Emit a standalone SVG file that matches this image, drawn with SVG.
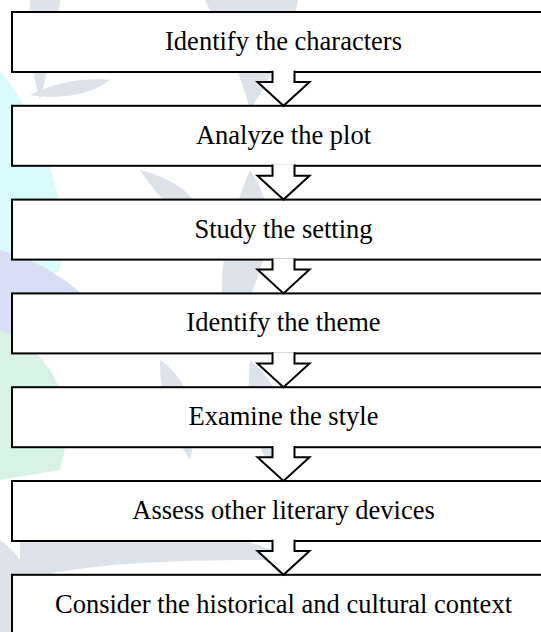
<svg xmlns="http://www.w3.org/2000/svg" width="541" height="632" viewBox="0 0 541 632">
<style>
.box{fill:#ffffff;stroke:#000000;stroke-width:2}
.lbl{font-family:"Liberation Serif","Times New Roman",serif;font-size:26.5px;fill:#000000;text-anchor:middle}
.arr{fill:#ffffff;stroke:#000000;stroke-width:2;stroke-linejoin:miter}
.wm{stroke:none}
</style>
<rect x="0" y="0" width="541" height="632" fill="#ffffff"/>
<g id="watermark">
<path class="wm" fill="#d9fbfc" d="M0 70 C40 120 70 200 60 270 L0 300 Z"/>
<path class="wm" fill="#d9ddf6" d="M0 250 C40 260 90 290 110 330 L0 350 Z"/>
<path class="wm" fill="#d8f3e6" d="M0 330 C50 350 80 400 60 470 L0 480 Z"/>
<path class="wm" fill="#dde3e8" d="M30 0 L60 0 C58 30 50 60 40 100 C30 70 28 30 30 0 Z"/>
<path class="wm" fill="#dde3e8" d="M30 95 C60 80 90 78 110 80 C90 95 60 100 30 95 Z"/>
<path class="wm" fill="#dde3e8" d="M205 0 L298 0 C290 40 270 80 250 110 C240 70 220 30 205 0 Z"/>
<path class="wm" fill="#dde3e8" d="M140 170 C180 180 200 200 210 230 C180 220 160 200 140 170 Z"/>
<path class="wm" fill="#dde3e8" d="M250 170 C270 200 275 230 260 270 C250 300 240 320 230 340 C215 300 220 240 250 170 Z"/>
<path class="wm" fill="#dde3e8" d="M160 360 C190 380 200 420 190 460 C170 430 160 400 160 360 Z"/>
<path class="wm" fill="#dde3e8" d="M250 360 C285 390 300 440 280 480 C255 450 245 410 250 360 Z"/>
<path class="wm" fill="#dde3e8" d="M20 520 C100 510 200 520 300 560 C200 560 100 560 20 580 Z"/>
<path class="wm" fill="#dde3e8" d="M0 540 C30 560 40 600 30 632 L0 632 Z"/>
</g>
<g id="n1"><rect class="box" x="12" y="12" width="560" height="60"/><text class="lbl" x="283.5" y="50">Identify the characters</text></g>
<g id="n2"><rect class="box" x="12" y="105.8" width="560" height="60"/><text class="lbl" x="283.5" y="143.8">Analyze the plot</text></g>
<g id="n3"><rect class="box" x="12" y="199.6" width="560" height="60"/><text class="lbl" x="283.5" y="237.6">Study the setting</text></g>
<g id="n4"><rect class="box" x="12" y="293.4" width="560" height="60"/><text class="lbl" x="283.5" y="331.4">Identify the theme</text></g>
<g id="n5"><rect class="box" x="12" y="387.2" width="560" height="60"/><text class="lbl" x="283.5" y="425.2">Examine the style</text></g>
<g id="n6"><rect class="box" x="12" y="481" width="560" height="60"/><text class="lbl" x="283.5" y="519">Assess other literary devices</text></g>
<g id="n7"><rect class="box" x="12" y="574.8" width="560" height="60"/><text class="lbl" x="283.5" y="612.8">Consider the historical and cultural context</text></g>
<g id="connectors">
<path class="arr" d="M272.5 70.8 L272.5 82 L257.5 82 L283.5 105.8 L309.5 82 L294.5 82 L294.5 70.8"/>
<path class="arr" d="M272.5 164.6 L272.5 175.8 L257.5 175.8 L283.5 199.6 L309.5 175.8 L294.5 175.8 L294.5 164.6"/>
<path class="arr" d="M272.5 258.4 L272.5 269.6 L257.5 269.6 L283.5 293.4 L309.5 269.6 L294.5 269.6 L294.5 258.4"/>
<path class="arr" d="M272.5 352.2 L272.5 363.4 L257.5 363.4 L283.5 387.2 L309.5 363.4 L294.5 363.4 L294.5 352.2"/>
<path class="arr" d="M272.5 446 L272.5 457.2 L257.5 457.2 L283.5 481 L309.5 457.2 L294.5 457.2 L294.5 446"/>
<path class="arr" d="M272.5 539.8 L272.5 551 L257.5 551 L283.5 574.8 L309.5 551 L294.5 551 L294.5 539.8"/>
</g>
</svg>
